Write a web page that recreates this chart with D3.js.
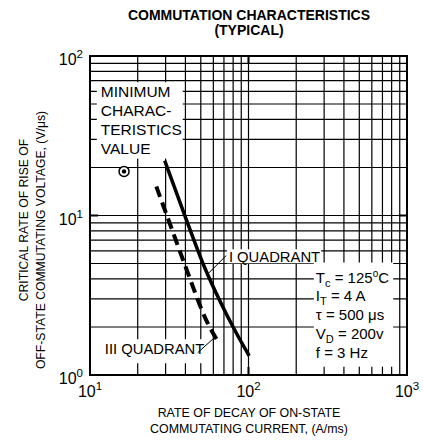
<!DOCTYPE html>
<html>
<head>
<meta charset="utf-8">
<script src="https://cdn.jsdelivr.net/npm/d3@7"></script>
<style>
  body { margin: 0; background: #fff; }
  text { font-family: "Liberation Sans", Arial, Helvetica, sans-serif; fill: #000; }
</style>
</head>
<body>
<svg width="423" height="448"></svg>
<script>
// data
var quad1X = [29.6, 39.5, 52.8, 65.8, 84.1, 101];
var quad1Y = [22.1, 10.1, 4.74, 2.93, 1.82, 1.32];
var quad3X = [26.2, 33, 40.5, 54.2, 64.7];
var quad3Y = [15.2, 8.1, 4.64, 2.2, 1.6];
var minValue = [16.4, 18.9];
var xTickValues = [10, 100, 1000];
var yTickValues = [1, 10, 100];
var minLabel = ["MINIMUM", "CHARAC-", "TERISTICS", "VALUE"];

var canvas = d3.select("svg");

// plot box (window.top is reserved, so use other names)
var plotLeft = 90, plotRight = 407, plotTop = 56, plotBottom = 375;

var x = d3.scaleLog().domain([10, 1000]).range([plotLeft, plotRight]);
var y = d3.scaleLog().domain([1, 100]).range([plotBottom, plotTop]);

// title
canvas.append("text")
  .attr("x", 249).attr("y", 20)
  .attr("text-anchor", "middle")
  .style("font-size", "14px").style("font-weight", "bold")
  .text("COMMUTATION CHARACTERISTICS");
canvas.append("text")
  .attr("x", 249).attr("y", 34.5)
  .attr("text-anchor", "middle")
  .style("font-size", "14px").style("font-weight", "bold")
  .text("(TYPICAL)");

// grid
var grid = canvas.append("g").attr("stroke", "#000").attr("stroke-width", 1.2);
grid.selectAll(".vx")
  .data(x.ticks().filter(function(d) { return d > 10 && d < 1000; }))
  .enter().append("line")
    .attr("x1", function(d) { return x(d); })
    .attr("x2", function(d) { return x(d); })
    .attr("y1", plotTop).attr("y2", plotBottom);
grid.selectAll(".hy")
  .data(y.ticks().filter(function(d) { return d > 1 && d < 100; }))
  .enter().append("line")
    .attr("y1", function(d) { return y(d); })
    .attr("y2", function(d) { return y(d); })
    .attr("x1", plotLeft).attr("x2", plotRight);

// labels with white boxes
function boxed(g, pad) {
  var b = g.node().getBBox();
  g.insert("rect", ":first-child")
    .attr("x", b.x - pad[0]).attr("y", b.y - pad[1])
    .attr("width", b.width + pad[0] + pad[2])
    .attr("height", b.height + pad[1] + pad[3])
    .attr("fill", "#fff");
}

var minG = canvas.append("g");
minG.selectAll("text")
  .data(minLabel)
  .enter().append("text")
    .attr("x", x(11.7))
    .attr("y", function(d, i) { return y(55.2) + i * 18.8; })
    .style("font-size", "15.5px")
    .text(function(d) { return d; });
boxed(minG, [4, 1, 1, 2]);

var q1G = canvas.append("g");
q1G.append("text")
  .attr("x", x(75.2)).attr("y", y(5.09))
  .style("font-size", "14.8px")
  .text("I QUADRANT");
boxed(q1G, [2, 0, 1, -2]);

var q3G = canvas.append("g");
q3G.append("text")
  .attr("x", x(12.4)).attr("y", y(1.35))
  .style("font-size", "14.8px")
  .text("III QUADRANT");
boxed(q3G, [4, 2, 3, 6]);

// test conditions
var condG = canvas.append("g");
var cx0 = x(266), cy0 = y(3.8), step = 18.8;
var c1 = condG.append("text").attr("x", cx0).attr("y", cy0).style("font-size", "15px");
c1.append("tspan").text("T");
c1.append("tspan").attr("dy", 4).style("font-size", "11px").text("c");
c1.append("tspan").attr("dy", -4).text(" = 125");
c1.append("tspan").attr("dy", -6).style("font-size", "10px").text("o");
c1.append("tspan").attr("dy", 6).text("C");
var c2 = condG.append("text").attr("x", cx0).attr("y", cy0 + step).style("font-size", "15px");
c2.append("tspan").text("I");
c2.append("tspan").attr("dy", 4).style("font-size", "11px").text("T");
c2.append("tspan").attr("dy", -4).text(" = 4 A");
condG.append("text").attr("x", cx0).attr("y", cy0 + step * 2).style("font-size", "15px")
  .text("\u03c4 = 500 \u03bcs");
var c4 = condG.append("text").attr("x", cx0).attr("y", cy0 + step * 3).style("font-size", "15px");
c4.append("tspan").text("V");
c4.append("tspan").attr("dy", 4).style("font-size", "11px").text("D");
c4.append("tspan").attr("dy", -4).text(" = 200v");
condG.append("text").attr("x", cx0).attr("y", cy0 + step * 4).style("font-size", "15px")
  .text("f = 3 Hz");
boxed(condG, [2, 5, 4, 6]);

// leader lines
canvas.append("line")
  .attr("x1", x(72.4)).attr("y1", y(5.61))
  .attr("x2", x(55.5)).attr("y2", y(4.31))
  .attr("stroke", "#000").attr("stroke-width", 1);
canvas.append("line")
  .attr("x1", x(47.8)).attr("y1", y(1.38))
  .attr("x2", x(62)).attr("y2", y(1.74))
  .attr("stroke", "#000").attr("stroke-width", 1);

// curves
var line = d3.line()
  .x(function(d) { return x(d[0]); })
  .y(function(d) { return y(d[1]); })
  .curve(d3.curveMonotoneX);

canvas.append("path")
  .datum(d3.zip(quad1X, quad1Y))
  .attr("d", line)
  .attr("fill", "none").attr("stroke", "#000").attr("stroke-width", 3.5);

canvas.append("path")
  .datum(d3.zip(quad3X, quad3Y))
  .attr("d", line)
  .attr("fill", "none").attr("stroke", "#000").attr("stroke-width", 4)
  .attr("stroke-dasharray", "11,6");

// minimum characteristic marker
canvas.append("circle")
  .attr("cx", x(minValue[0])).attr("cy", y(minValue[1])).attr("r", 5)
  .attr("fill", "#fff").attr("stroke", "#000").attr("stroke-width", 1.5);
canvas.append("circle")
  .attr("cx", x(minValue[0])).attr("cy", y(minValue[1])).attr("r", 2.2)
  .attr("fill", "#000");

// frame and decade ticks
canvas.append("rect")
  .attr("x", plotLeft).attr("y", plotTop)
  .attr("width", plotRight - plotLeft).attr("height", plotBottom - plotTop)
  .attr("fill", "none").attr("stroke", "#000").attr("stroke-width", 2);

var ticks = canvas.append("g").attr("stroke", "#000").attr("stroke-width", 2);
ticks.append("line").attr("x1", plotLeft).attr("x2", plotLeft + 8).attr("y1", y(10)).attr("y2", y(10));
ticks.append("line").attr("x1", plotRight - 8).attr("x2", plotRight).attr("y1", y(10)).attr("y2", y(10));
ticks.append("line").attr("x1", x(100)).attr("x2", x(100)).attr("y1", plotTop).attr("y2", plotTop + 8);
ticks.append("line").attr("x1", x(100)).attr("x2", x(100)).attr("y1", plotBottom - 8).attr("y2", plotBottom);

// tick labels
function power(sel) {
  sel.append("tspan").text("10");
  sel.append("tspan").attr("dy", -7).style("font-size", "11.5px")
    .text(function(d) { return Math.round(Math.log10(d)); });
}

canvas.selectAll(".xl")
  .data(xTickValues)
  .enter().append("text")
    .attr("x", function(d) { return x(d); })
    .attr("y", 397)
    .attr("text-anchor", "middle")
    .style("font-size", "16px")
    .call(power);

canvas.selectAll(".yl")
  .data(yTickValues)
  .enter().append("text")
    .attr("x", 83)
    .attr("y", function(d) { return y(d) + 9; })
    .attr("text-anchor", "end")
    .style("font-size", "16px")
    .call(power);

// axis titles
canvas.append("text")
  .attr("x", 249).attr("y", 417)
  .attr("text-anchor", "middle").style("font-size", "12.4px")
  .text("RATE OF DECAY OF ON-STATE");
canvas.append("text")
  .attr("x", 249).attr("y", 433)
  .attr("text-anchor", "middle").style("font-size", "12.4px")
  .text("COMMUTATING CURRENT, (A/ms)");

canvas.append("text")
  .attr("transform", "translate(28,220) rotate(-90)")
  .attr("text-anchor", "middle").style("font-size", "12.2px")
  .text("CRITICAL RATE OF RISE OF");
canvas.append("text")
  .attr("transform", "translate(45,240) rotate(-90)")
  .attr("text-anchor", "middle").style("font-size", "12.2px")
  .text("OFF-STATE COMMUTATING VOLTAGE, (V/\u03bcs)");
</script>
</body>
</html>
